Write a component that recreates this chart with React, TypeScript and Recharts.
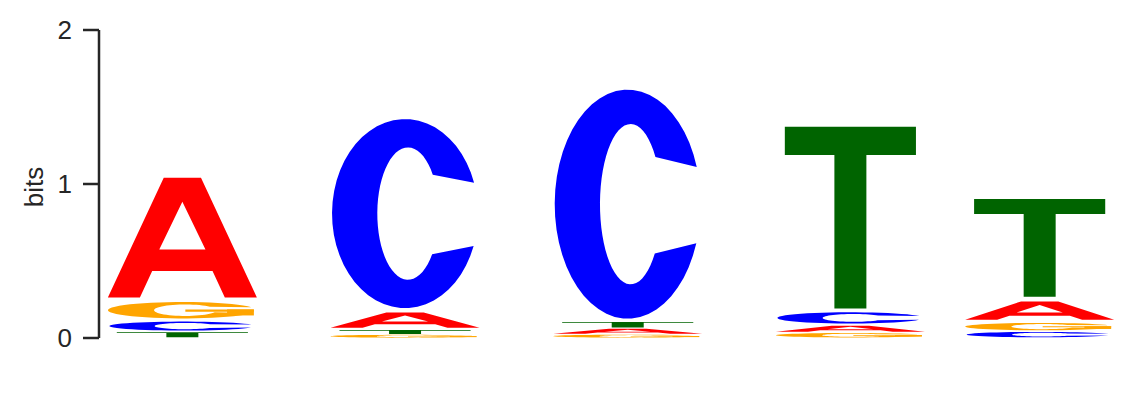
import { BarChart, Bar, XAxis, YAxis } from "recharts";

// sequence logo: information content (bits) per letter at each position
const positions = [1, 2, 3, 4, 4.85];
const letters = ["A", "C", "G", "T"];
const bitsA = [0.81, 0.123, 0.04, 0.049, 0.148];
const bitsC = [0.073, 1.26, 1.52, 0.091, 0.044];
const bitsG = [0.133, 0.023, 0.024, 0.036, 0.06];
const bitsT = [0.041, 0.032, 0.045, 1.212, 0.667];
const yTicks = [0, 1, 2];

const heights: Record<string, number[]> = { A: bitsA, C: bitsC, G: bitsG, T: bitsT };
const colors: Record<string, string> = { A: "#ff0000", C: "#0000ff", G: "#ffa500", T: "#006400" };
const ranks = [0, 1, 2, 3];

// smallest letter at the bottom of each stack
const data = positions.map((pos, i) => {
  const items = letters.map((l) => ({ l, v: heights[l][i] })).sort((a, b) => a.v - b.v);
  const row: any = { pos };
  items.forEach((it, r) => {
    row[`v${r}`] = it.v;
    row[`l${r}`] = it.l;
  });
  return row;
});

type Pt = [number, number];

function arc(cx: number, cy: number, rx: number, ry: number, from: number, to: number, n = 48): Pt[] {
  const pts: Pt[] = [];
  for (let k = 0; k <= n; k++) {
    const t = ((from + ((to - from) * k) / n) * Math.PI) / 180;
    pts.push([cx + rx * Math.cos(t), cy + ry * Math.sin(t)]);
  }
  return pts;
}

// glyph outlines in a unit box, y down
const glyphs: Record<string, Pt[][][]> = {
  A: [
    [
      [[0, 1], [0.375, 0], [0.625, 0], [1, 1], [0.785, 1], [0.7025, 0.78], [0.2975, 0.78], [0.215, 1]],
      [[0.345, 0.6], [0.655, 0.6], [0.5, 0.2]],
    ],
  ],
  C: [[arc(0.5, 0.5, 0.5, 0.5, -19, -340).concat(arc(0.52, 0.5, 0.21, 0.35, -322, -36))]],
  G: [
    [arc(0.5, 0.5, 0.5, 0.5, -22, -340).concat(arc(0.52, 0.5, 0.21, 0.35, -340, -38))],
    [[[0.52, 0.45], [0.98, 0.45], [0.98, 0.6], [0.52, 0.6]]],
    [[[0.8, 0.45], [0.98, 0.45], [0.98, 0.82], [0.8, 0.82]]],
  ],
  T: [
    [[[0, 0], [1, 0], [1, 0.155], [0.622, 0.155], [0.622, 1], [0.378, 1], [0.378, 0.155], [0, 0.155]]],
  ],
};

const glyphWidth: Record<string, number> = { A: 1, C: 0.98, G: 1, T: 0.88 };

const makeShape = (rank: number) => (props: any) => {
  const { x, y, width, height, payload } = props;
  const letter = payload[`l${rank}`];
  if (!height || height <= 0) return <g />;
  const pad = Math.min(height * 0.1, 2.5);
  const gw = width * glyphWidth[letter];
  const gx = x + (width - gw) / 2;
  const gy = y + pad;
  const gh = height - 2 * pad;
  return (
    <g>
      {glyphs[letter].map((polys, k) => (
        <path
          key={k}
          fill={colors[letter]}
          fillRule="evenodd"
          d={polys
            .map((poly) => "M" + poly.map((p) => `${gx + p[0] * gw},${gy + p[1] * gh}`).join("L") + "Z")
            .join("")}
        />
      ))}
    </g>
  );
};

const BitsLabel = (props: any) => {
  const { viewBox } = props;
  const cx = viewBox.x + 34.5;
  const cy = viewBox.y + viewBox.height / 2 + 3;
  return (
    <text
      x={cx}
      y={cy}
      transform={`rotate(-90, ${cx}, ${cy})`}
      textAnchor="middle"
      fill="#262626"
      fontSize={26}
      fontFamily="'Liberation Sans', Arial, sans-serif"
    >
      bits
    </text>
  );
};

export default function App() {
  return (
    <BarChart
      width={1138}
      height={396}
      data={data}
      barSize={149}
      margin={{ top: 22, right: 6, bottom: 66, left: 0 }}
    >
      <XAxis dataKey="pos" type="number" domain={[0.625, 5.3]} allowDataOverflow hide />
      <YAxis
        width={91}
        domain={[0, 2]}
        ticks={yTicks}
        tickSize={16}
        tickMargin={11}
        axisLine={{ stroke: "#262626", strokeWidth: 2.5 }}
        tickLine={{ stroke: "#262626", strokeWidth: 2.5 }}
        tick={{ fill: "#262626", fontSize: 26, fontFamily: "'Liberation Sans', Arial, sans-serif" }}
        label={<BitsLabel />}
      />
      {ranks.map((r) => (
        <Bar
          key={r}
          dataKey={`v${r}`}
          stackId="logo"
          shape={makeShape(r)}
          isAnimationActive={false}
        />
      ))}
    </BarChart>
  );
}
